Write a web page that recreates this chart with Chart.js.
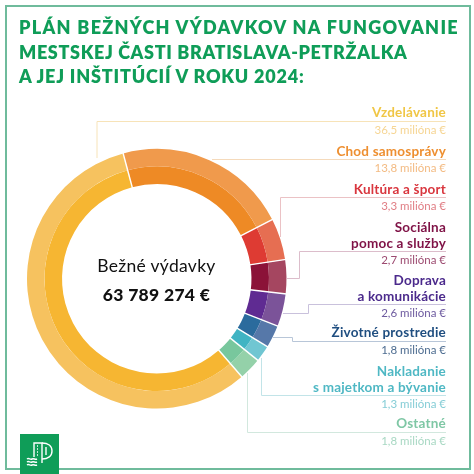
<!DOCTYPE html>
<html><head><meta charset="utf-8">
<script src="https://cdn.jsdelivr.net/npm/chart.js@4/dist/chart.umd.js"></script>
<style>
html,body{margin:0;padding:0;background:#fff;width:474px;height:474px;overflow:hidden}
#frame{position:absolute;left:5px;top:5px;width:462px;height:461px;border:2px solid #6fbb9c}
#wrap{position:absolute;left:0;top:0;width:474px;height:474px}
#title{position:absolute;left:19px;top:15px;font:800 18px/24.5px Lato,sans-serif;color:#0f9d58;white-space:nowrap}
#title div{height:24.5px}
.n,.a{position:absolute;right:28px;white-space:nowrap;font-family:Lato,sans-serif;transform:translateY(-50%)}
.n{font-size:13.5px;font-weight:700;letter-spacing:.2px}
.a{font-size:11.5px;font-weight:400}
.c{position:absolute;left:56.5px;width:200px;text-align:center;transform:translateY(-50%);color:#111;font-family:Lato,sans-serif;white-space:nowrap}
#logo{position:absolute;left:20px;top:434px;width:39px;height:40px;background:#0f9d58}
</style></head><body>
<div id="frame"></div>
<div id="wrap"><canvas id="c" width="474" height="474"></canvas></div>
<div id="title"></div>
<div class="c" style="top:265px;font-size:17.5px;letter-spacing:.3px">Bežné výdavky</div>
<div class="c" style="top:294px;font-size:17.5px;font-weight:900;letter-spacing:.3px">63 789 274 €</div>
<div id="labels"></div>
<div id="logo"><svg width="39" height="40" viewBox="0 0 39 40" fill="none" stroke="#fff" stroke-width="1.4">
<path d="M14 23V9h8v20"/><path d="M22 9c6 0 10 3 10 8s-4 8-10 8"/><path d="M26 13v8"/><path d="M17 12h1M17 15h1M17 18h1M17 21h1"/>
<path d="M7 25c2-1.500 3 1 5 0s3 1 5 0M7 28c2-1.500 3 1 5 0s3 1 5 0M7 31c2-1.500 3 1 5 0s3 1 5 0"/></svg></div>
<script>
const titleLines = ["PLÁN BEŽNÝCH VÝDAVKOV NA FUNGOVANIE","MESTSKEJ ČASTI BRATISLAVA-PETRŽALKA","A JEJ INŠTITÚCIÍ V ROKU 2024:"];
const titleSpacing = [1.3,0.63,0.8];
const categories = ["Vzdelávanie","Chod samosprávy","Kultúra a šport","Sociálna pomoc a služby","Doprava a komunikácie","Životné prostredie","Nakladanie s majetkom a bývanie","Ostatné"];
const valuesMillions = [36.5,13.8,3.3,2.7,2.6,1.8,1.3,1.8];
const amountLabels = ["36,5 milióna €","13,8 milióna €","3,3 milióna €","2,7 milióna €","2,6 milióna €","1,8 milióna €","1,3 milióna €","1,8 milióna €"];
const innerColors = ["#f6b632","#ee8a25","#de3b33","#8b1238","#5f2b92","#2b6b9d","#40b4c3","#78c79d"];
const outerColors = ["#f6c25f","#f09a4c","#e66e52","#a54660","#7b5399","#5678a9","#70c6d2","#94d1a9"];
const nameColors = ["#f0c645","#ee8f30","#d9363e","#7f1246","#4b2a8c","#1f4e80","#4fb8c4","#7fc7a5"];
const amountColors = ["#f6d593","#f3bb83","#e07d84","#9c4a70","#6d5a9f","#4d6c90","#85cdd6","#a8d8c3"];
const labelLines = [["Vzdelávanie"],["Chod samosprávy"],["Kultúra a šport"],["Sociálna","pomoc a služby"],["Doprava","a komunikácie"],["Životné prostredie"],["Nakladanie","s majetkom a bývanie"],["Ostatné"]];
const labelYs = [[112,129],[150.5,167],[188.5,205],[227,243,259],[280,296,312],[332,349],[370.500,386.500,403],[423,440]];
const leaderColors = ["#f7e3b8","#f5dabb","#ebc2c5","#dcbdcb","#c9c1dc","#b8c6d8","#c2e4e8","#d2e8de"];
const leaders = [
 [[446,121.5],[97,121.5],[97,158]],
 [[446,159.5],[212,159.5]],
 [[446,197.5],[280.5,197.5],[280.5,237]],
 [[446,251.5],[299.5,251.5],[299.5,278.500],[287,278.500]],
 [[446,304.5],[308.5,304.5],[308.5,313.500],[283,313.500]],
 [[446,341.5],[292.5,341.5],[292.5,337.5],[273,337.5]],
 [[446,395.5],[261.5,395.5],[261.5,358]],
 [[446,432.5],[247.5,432.5],[247.5,373]]
];
const T = document.getElementById('title');
titleLines.forEach((t,i)=>{const d=document.createElement('div');d.textContent=t;d.style.letterSpacing=titleSpacing[i]+'px';T.appendChild(d);});
const L = document.getElementById('labels');
labelLines.forEach((lines,i)=>{
  lines.forEach((t,j)=>{const d=document.createElement('div');d.className='n';d.textContent=t;d.style.top=labelYs[i][j]+'px';d.style.color=nameColors[i];L.appendChild(d);});
  const a=document.createElement('div');a.className='a';a.textContent=amountLabels[i];a.style.top=labelYs[i][lines.length]+'px';a.style.color=amountColors[i];L.appendChild(a);
});
const leaderPlugin={id:'leaders',
 beforeDatasetsDraw(chart){
  const x=chart.ctx;x.save();x.lineWidth=1;
  leaders.forEach((p,i)=>{x.strokeStyle=leaderColors[i];x.beginPath();p.forEach((q,k)=>k?x.lineTo(q[0],q[1]):x.moveTo(q[0],q[1]));x.stroke();});
  x.restore();
 },
 afterDatasetsDraw(chart){
  const outer=chart.getDatasetMeta(0).data, inner=chart.getDatasetMeta(1).data, x=chart.ctx;
  x.save();x.strokeStyle='#fff';x.lineWidth=1.4;
  outer.forEach((a,i)=>{
    const t=a.endAngle, r0=inner[i].innerRadius-1, r1=a.outerRadius+1;
    x.beginPath();x.moveTo(a.x+r0*Math.cos(t),a.y+r0*Math.sin(t));x.lineTo(a.x+r1*Math.cos(t),a.y+r1*Math.sin(t));x.stroke();
  });
  x.restore();
 }};
const gapAngleTop = -15;
const firstSweep = valuesMillions[0]/valuesMillions.reduce((s,v)=>s+v,0)*360;
new Chart(document.getElementById('c'),{
  type:'doughnut',
  data:{labels:categories,datasets:[
    {data:valuesMillions,backgroundColor:outerColors,borderWidth:0},
    {data:valuesMillions,backgroundColor:innerColors,borderWidth:0}
  ]},
  plugins:[leaderPlugin],
  options:{responsive:false,animation:false,rotation:gapAngleTop-firstSweep,cutout:'73%',
    layout:{padding:{left:27,top:149,right:187.5,bottom:65.5}},
    plugins:{legend:{display:false},tooltip:{enabled:false},title:{display:false}}}
});
</script>
</body></html>
